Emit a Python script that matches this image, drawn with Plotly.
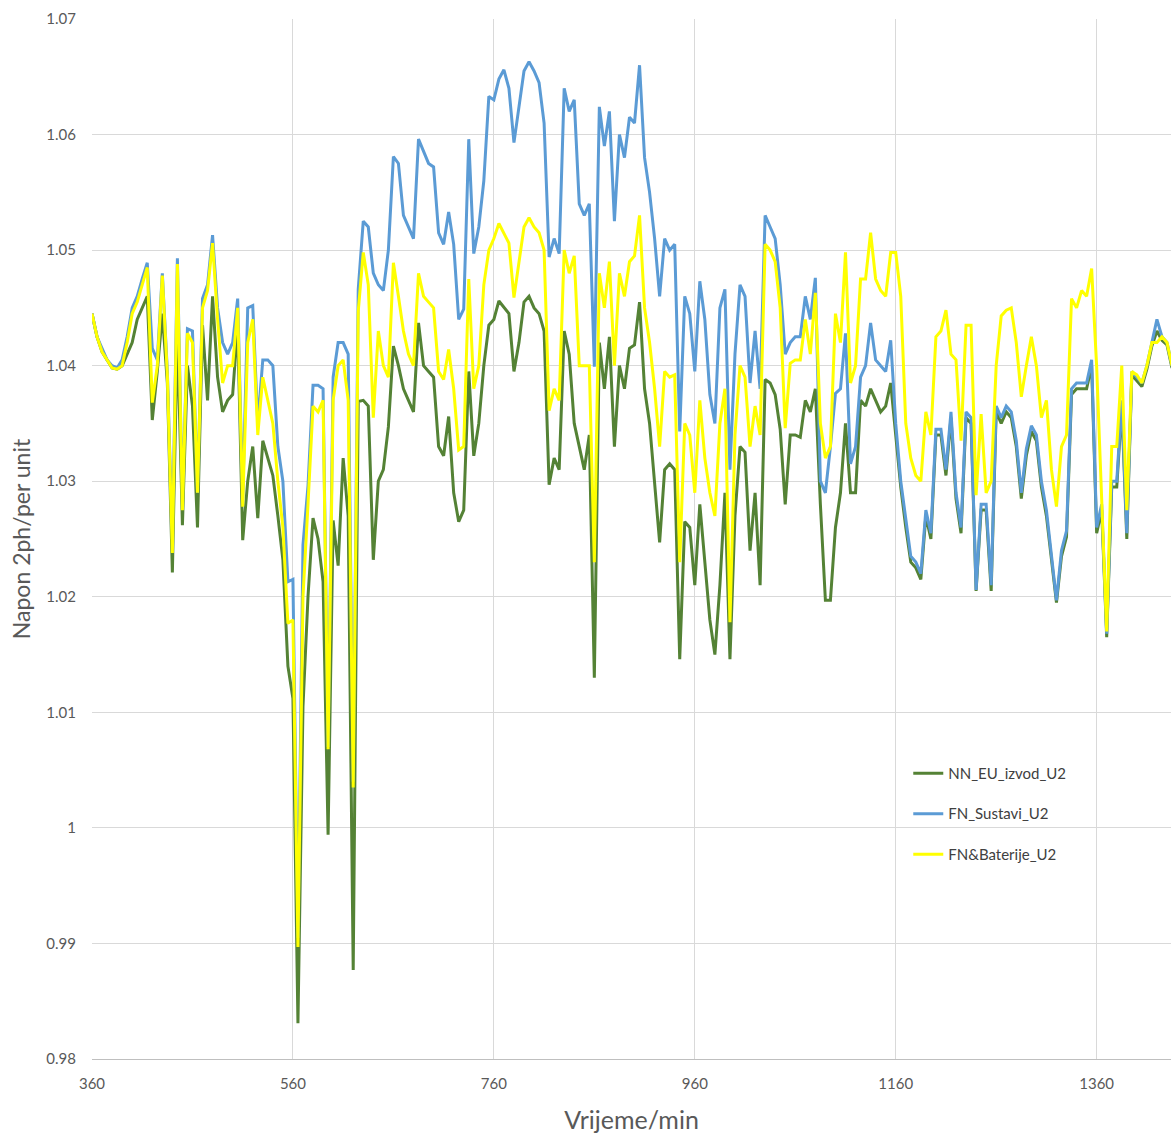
import plotly.graph_objects as go

# time grid (minutes), 5-minute steps
t_start, t_step, n_pts = 360, 5, 216
time_min = [t_start + i * t_step for i in range(n_pts)]

nn_eu_izvod_u2 = [
    1.0445, 1.0425, 1.0412, 1.0405, 1.0398, 1.0397, 1.0400, 1.0410, 1.0420, 1.0440,
    1.0450, 1.0460, 1.0353, 1.0395, 1.0445, 1.0385, 1.0221, 1.0430, 1.0262, 1.0400,
    1.0365, 1.0260, 1.0435, 1.0370, 1.0460, 1.0390, 1.0360, 1.0370, 1.0375, 1.0435,
    1.0249, 1.0300, 1.0330, 1.0268, 1.0335, 1.0320, 1.0305, 1.0270, 1.0232, 1.0140,
    1.0112, 0.9831, 1.0105, 1.0200, 1.0268, 1.0250, 1.0213, 0.9994, 1.0266, 1.0227,
    1.0320, 1.0270, 0.9877, 1.0369, 1.0370, 1.0365, 1.0232, 1.0300, 1.0310, 1.0347,
    1.0417, 1.0400, 1.0380, 1.0370, 1.0360, 1.0437, 1.0400, 1.0395, 1.0390, 1.0330,
    1.0322, 1.0356, 1.0290, 1.0265, 1.0275, 1.0395, 1.0322, 1.0350, 1.0400, 1.0435,
    1.0440, 1.0456, 1.0450, 1.0445, 1.0395, 1.0420, 1.0455, 1.0460, 1.0450, 1.0445,
    1.0430, 1.0297, 1.0320, 1.0310, 1.0430, 1.0410, 1.0350, 1.0330, 1.0310, 1.0340,
    1.0130, 1.0420, 1.0380, 1.0425, 1.0330, 1.0400, 1.0380, 1.0415, 1.0418, 1.0455,
    1.0380, 1.0350, 1.0300, 1.0247, 1.0310, 1.0315, 1.0310, 1.0146, 1.0265, 1.0260,
    1.0210, 1.0280, 1.0230, 1.0180, 1.0150, 1.0210, 1.0290, 1.0146, 1.0270, 1.0330,
    1.0325, 1.0240, 1.0290, 1.0210, 1.0388, 1.0385, 1.0375, 1.0345, 1.0280, 1.0340,
    1.0340, 1.0338, 1.0370, 1.0360, 1.0380, 1.0280, 1.0197, 1.0197, 1.0260, 1.0290,
    1.0350, 1.0290, 1.0290, 1.0370, 1.0365, 1.0380, 1.0370, 1.0360, 1.0365, 1.0385,
    1.0340, 1.0295, 1.0260, 1.0230, 1.0225, 1.0215, 1.0270, 1.0250, 1.0340, 1.0340,
    1.0305, 1.0355, 1.0285, 1.0255, 1.0355, 1.0350, 1.0205, 1.0275, 1.0275, 1.0205,
    1.0360, 1.0350, 1.0360, 1.0355, 1.0330, 1.0285, 1.0322, 1.0343, 1.0335, 1.0295,
    1.0270, 1.0230, 1.0195, 1.0235, 1.0252, 1.0375, 1.0380, 1.0380, 1.0380, 1.0400,
    1.0255, 1.0275, 1.0165, 1.0295, 1.0295, 1.0365, 1.0250, 1.0392, 1.0387, 1.0382,
    1.0397, 1.0417, 1.0430, 1.0422, 1.0418, 1.0398,
]

fn_sustavi_u2 = [
    1.0445, 1.0425, 1.0415, 1.0405, 1.0400, 1.0398, 1.0405, 1.0425, 1.0450, 1.0460,
    1.0475, 1.0489, 1.0415, 1.0405, 1.0480, 1.0395, 1.0250, 1.0493, 1.0280, 1.0432,
    1.0430, 1.0290, 1.0458, 1.0470, 1.0513, 1.0450, 1.0420, 1.0410, 1.0420, 1.0458,
    1.0285, 1.0450, 1.0452, 1.0350, 1.0405, 1.0405, 1.0400, 1.0330, 1.0300, 1.0213,
    1.0215, 0.9905, 1.0245, 1.0296, 1.0383, 1.0383, 1.0380, 1.0070, 1.0390, 1.0420,
    1.0420, 1.0410, 1.0040, 1.0466, 1.0525, 1.0520, 1.0480, 1.0470, 1.0465, 1.0500,
    1.0581, 1.0575, 1.0530, 1.0520, 1.0510, 1.0596, 1.0585, 1.0575, 1.0572, 1.0515,
    1.0505, 1.0533, 1.0505, 1.0440, 1.0449, 1.0596, 1.0497, 1.0520, 1.0560, 1.0633,
    1.0630, 1.0648, 1.0656, 1.0640, 1.0593, 1.0625, 1.0655, 1.0663, 1.0655, 1.0645,
    1.0610, 1.0494, 1.0510, 1.0497, 1.0640, 1.0620, 1.0630, 1.0540, 1.0530, 1.0540,
    1.0399, 1.0624, 1.0590, 1.0620, 1.0525, 1.0600, 1.0580, 1.0615, 1.0610, 1.0660,
    1.0580, 1.0550, 1.0510, 1.0460, 1.0510, 1.0500, 1.0505, 1.0343, 1.0460, 1.0445,
    1.0395, 1.0473, 1.0440, 1.0375, 1.0350, 1.0450, 1.0466, 1.0310, 1.0410, 1.0470,
    1.0460, 1.0385, 1.0430, 1.0380, 1.0530, 1.0520, 1.0510, 1.0470, 1.0410, 1.0420,
    1.0425, 1.0425, 1.0460, 1.0440, 1.0476, 1.0300, 1.0290, 1.0330, 1.0376, 1.0380,
    1.0428, 1.0315, 1.0330, 1.0390, 1.0400, 1.0437, 1.0405, 1.0400, 1.0395, 1.0422,
    1.0350, 1.0300, 1.0265, 1.0235, 1.0230, 1.0220, 1.0275, 1.0255, 1.0345, 1.0345,
    1.0310, 1.0360, 1.0290, 1.0260, 1.0360, 1.0355, 1.0206, 1.0280, 1.0280, 1.0210,
    1.0365, 1.0355, 1.0365, 1.0360, 1.0335, 1.0290, 1.0328, 1.0348, 1.0340, 1.0300,
    1.0275, 1.0235, 1.0197, 1.0240, 1.0257, 1.0380, 1.0385, 1.0385, 1.0385, 1.0405,
    1.0260, 1.0280, 1.0168, 1.0300, 1.0300, 1.0370, 1.0255, 1.0395, 1.0390, 1.0385,
    1.0400, 1.0420, 1.0440, 1.0425, 1.0420, 1.0400,
]

fn_baterije_u2 = [
    1.0445, 1.0425, 1.0412, 1.0405, 1.0398, 1.0397, 1.0400, 1.0420, 1.0445, 1.0455,
    1.0470, 1.0485, 1.0368, 1.0400, 1.0478, 1.0392, 1.0238, 1.0488, 1.0275, 1.0428,
    1.0420, 1.0290, 1.0450, 1.0465, 1.0506, 1.0440, 1.0385, 1.0400, 1.0400, 1.0450,
    1.0278, 1.0420, 1.0440, 1.0340, 1.0390, 1.0370, 1.0350, 1.0300, 1.0260, 1.0177,
    1.0180, 0.9897, 1.0200, 1.0280, 1.0365, 1.0360, 1.0370, 1.0068, 1.0370, 1.0400,
    1.0405, 1.0370, 1.0035, 1.0447, 1.0498, 1.0470, 1.0355, 1.0430, 1.0400, 1.0390,
    1.0489, 1.0460, 1.0430, 1.0410, 1.0400, 1.0480, 1.0460, 1.0455, 1.0450, 1.0395,
    1.0388, 1.0414, 1.0380, 1.0327, 1.0330, 1.0475, 1.0380, 1.0400, 1.0470, 1.0500,
    1.0510, 1.0523, 1.0515, 1.0506, 1.0459, 1.0490, 1.0520, 1.0528, 1.0520, 1.0515,
    1.0500, 1.0361, 1.0380, 1.0370, 1.0500, 1.0480, 1.0495, 1.0400, 1.0400, 1.0400,
    1.0230, 1.0480, 1.0450, 1.0490, 1.0400, 1.0480, 1.0460, 1.0490, 1.0495, 1.0530,
    1.0450, 1.0420, 1.0380, 1.0330, 1.0395, 1.0390, 1.0392, 1.0230, 1.0350, 1.0340,
    1.0290, 1.0370, 1.0320, 1.0290, 1.0270, 1.0350, 1.0380, 1.0178, 1.0340, 1.0400,
    1.0390, 1.0330, 1.0365, 1.0340, 1.0505, 1.0500, 1.0490, 1.0450, 1.0346, 1.0402,
    1.0405, 1.0405, 1.0440, 1.0410, 1.0463, 1.0350, 1.0320, 1.0330, 1.0445, 1.0420,
    1.0498, 1.0385, 1.0400, 1.0475, 1.0475, 1.0515, 1.0475, 1.0465, 1.0460, 1.0498,
    1.0498, 1.0460, 1.0350, 1.0320, 1.0305, 1.0300, 1.0360, 1.0340, 1.0425, 1.0430,
    1.0448, 1.0410, 1.0405, 1.0335, 1.0435, 1.0435, 1.0288, 1.0358, 1.0290, 1.0300,
    1.0400, 1.0443, 1.0448, 1.0450, 1.0420, 1.0373, 1.0400, 1.0425, 1.0400, 1.0355,
    1.0370, 1.0310, 1.0278, 1.0330, 1.0340, 1.0458, 1.0450, 1.0465, 1.0460, 1.0484,
    1.0399, 1.0283, 1.0170, 1.0330, 1.0330, 1.0400, 1.0275, 1.0395, 1.0392, 1.0385,
    1.0400, 1.0420, 1.0420, 1.0425, 1.0420, 1.0400,
]

series_names = ["NN_EU_izvod_U2", "FN_Sustavi_U2", "FN&Baterije_U2"]
series_values = [nn_eu_izvod_u2, fn_sustavi_u2, fn_baterije_u2]
series_colors = ["#548235", "#5B9BD5", "#FFFF00"]

x_tick_vals = [360, 560, 760, 960, 1160, 1360]
y_tick_vals = [0.98, 0.99, 1.00, 1.01, 1.02, 1.03, 1.04, 1.05, 1.06, 1.07]
y_tick_text = ["0.98", "0.99", "1", "1.01", "1.02", "1.03", "1.04", "1.05", "1.06", "1.07"]

FONT = "Lato, 'Open Sans', sans-serif"

fig = go.Figure()
for name, vals, col in zip(series_names, series_values, series_colors):
    fig.add_trace(go.Scatter(
        x=time_min, y=vals, mode="lines", name=name,
        legendgroup=name,
        line=dict(color=col, width=3),
    ))

fig.update_layout(
    width=1171, height=1135,
    margin=dict(l=92, r=0, t=19, b=76),
    plot_bgcolor="white", paper_bgcolor="white",
    font=dict(family=FONT, color="#595959"),
    showlegend=True,
    legend=dict(
        x=0.7565, y=0.2905, xanchor="left", yanchor="top",
        bgcolor="rgba(0,0,0,0)",
        font=dict(size=15, color="#404040", family=FONT),
        tracegroupgap=18,
    ),
    xaxis=dict(
        range=[360, 1434],
        tickvals=x_tick_vals,
        showgrid=True, gridcolor="#d9d9d9", gridwidth=1,
        showline=True, linecolor="#bfbfbf", linewidth=1,
        zeroline=False,
        tickfont=dict(size=15, color="#595959"),
        ticklabelstandoff=11,
        title=dict(text="Vrijeme/min", font=dict(size=25, color="#595959"), standoff=20),
    ),
    yaxis=dict(
        range=[0.98, 1.07],
        tickvals=y_tick_vals, ticktext=y_tick_text,
        showgrid=True, gridcolor="#d9d9d9", gridwidth=1,
        showline=False, zeroline=False,
        tickfont=dict(size=15, color="#595959"),
        ticklabelstandoff=15,
        title=dict(text="Napon 2ph/per unit", font=dict(size=23, color="#595959"), standoff=9),
    ),
)

fig.write_html(
    "out.html",
    config={"displayModeBar": False},
    post_script="document.body.style.margin='0';document.body.style.overflow='hidden';",
)
